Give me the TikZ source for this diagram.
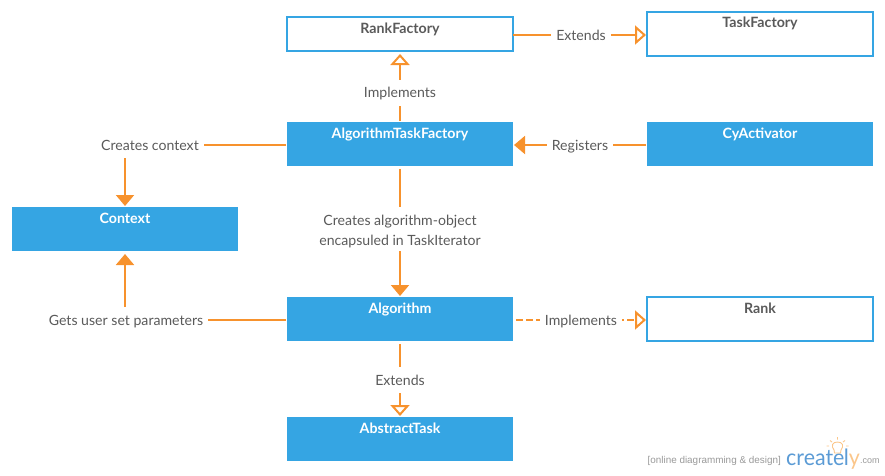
\documentclass[tikz,border=0pt]{standalone}
\usepackage{fontspec}
\setmainfont{Lato}
\newfontfamily\wmfont{Liberation Sans}
\newfontfamily\logofont[FakeStretch=0.95]{Lato}
\usetikzlibrary{arrows.meta,calc}
\definecolor{boxblue}{HTML}{35A5E3}
\definecolor{wire}{HTML}{F7922D}
\definecolor{ink}{HTML}{5A5A5A}
\definecolor{logoblue}{HTML}{5B9BD5}
\definecolor{logoorange}{HTML}{FBC68A}
\tikzset{
  basebox/.style={rectangle,inner sep=0pt,outer sep=0pt,minimum width=226pt,font=\fontsize{14.2}{16}\selectfont\bfseries,text height=16pt},
  solidbox/.style={basebox,fill=boxblue,text=white,text depth=28pt},
  linebox/.style={basebox,draw=boxblue,line width=2pt,fill=white,text=ink,text depth=28pt},
  shortbox/.style={linebox,text depth=18pt},
  plainlabel/.style={inner xsep=5pt,inner ysep=8pt,outer sep=0pt,text=ink,font=\fontsize{14.1}{20}\selectfont,align=center},
  tasklabel/.style={plainlabel,text height=10pt,text depth=0pt},
  wireline/.style={draw=wire,line width=2pt},
  fulltip/.style={-{Triangle[length=11pt 0 0,width=18pt 0 0,fill=wire]}},
  opentip/.style={-{Triangle[length=11pt 0 0,width=19pt 0 0,fill=white]}},
  dashline/.style={wireline,dash pattern=on 7pt off 3pt},
}
\begin{document}
\begin{tikzpicture}[x=1pt,y=-1pt]
\useasboundingbox (0,0) rectangle (885,475);
% boxes
\node[shortbox] (rankf) at (400,34) {RankFactory};
\node[linebox,text height=15pt,text depth=29pt] (taskf) at (760,34) {TaskFactory};
\node[solidbox] (atf) at (400,144) {AlgorithmTaskFactory};
\node[solidbox] (cya) at (760,144) {CyActivator};
\node[solidbox] (ctx) at (125,229) {Context};
\node[solidbox] (alg) at (400,319) {Algorithm};
\node[linebox] (rank) at (760,319) {Rank};
\node[solidbox] (abs) at (400,439) {AbstractTask};
% labels
\node[tasklabel] (lext1) at (581,35) {Extends};
\node[tasklabel] (limp1) at (400,92.5) {Implements};
\node[tasklabel] (lreg) at (580,145) {Registers};
\node[tasklabel] (lctx) at (150,145) {Creates context};
\node[plainlabel] (lalg) at (400,232) {Creates algorithm-object\\encapsuled in TaskIterator};
\node[tasklabel] (lget) at (126,320) {Gets user set parameters};
\node[tasklabel] (limp2) at (581,320) {Implements};
\node[tasklabel] (lext2) at (400,380) {Extends};
% connectors
\draw[wireline] (rankf.east |- lext1) -- (lext1.west);
\draw[wireline,opentip,shorten >=1pt] (lext1.east) -- (taskf.west |- lext1);
\draw[wireline,shorten <=1pt] (atf.north) -- (limp1.south);
\draw[wireline,opentip,shorten >=3pt] (limp1.north) -- (rankf.south);
\draw[wireline,shorten <=1pt] (cya.west |- lreg) -- (lreg.east);
\draw[wireline,fulltip,shorten >=1pt] (lreg.west) -- (atf.east |- lreg);
\draw[wireline,shorten <=1pt] (atf.west |- lctx) -- (lctx.east);
\draw[wireline,fulltip,shorten >=1pt] (lctx.south -| ctx.north) -- (ctx.north);
\draw[wireline,shorten <=3pt,shorten >=1pt] (atf.south) -- (lalg.north);
\draw[wireline,fulltip,shorten <=-5pt,shorten >=1pt] (lalg.south) -- (alg.north);
\draw[wireline,shorten <=1pt] (alg.west |- lget) -- (lget.east);
\draw[wireline,fulltip,shorten >=3pt] (lget.north -| ctx.south) -- (ctx.south);
\draw[dashline,shorten <=3pt] (alg.east |- limp2) -- (limp2.west);
\draw[dashline,dash phase=5pt,opentip,shorten >=1pt] (limp2.east) -- (rank.west |- limp2);
\draw[wireline,shorten <=3pt] (alg.south) -- (lext2.north);
\draw[wireline,opentip,shorten >=1pt] (lext2.south) -- (abs.north);
% watermark
\node[anchor=base east,inner sep=0pt,text=gray!80,font=\wmfont\fontsize{9.9}{11}\selectfont] (wm) at (781,463) {[online diagramming \& design]};
\node[anchor=base west,inner sep=0pt,text=logoblue,font=\logofont\fontsize{22.5}{26}\selectfont] (logo) at (786,465) {create\kern-0.5pt l\textcolor{logoorange}{y}};
\node[anchor=base west,inner sep=0pt,text=gray!80,font=\wmfont\fontsize{9}{11}\selectfont] (dotcom) at (860,463.5) {.com};
\draw[logoorange,line width=0.9pt,fill=white] (834,450) .. controls (831,446) and (832,442) .. (837.5,442) .. controls (843,442) and (844,446) .. (841,450) -- (840.5,453) -- (834.5,453) -- cycle;
\draw[logoorange,line width=0.9pt] (837.5,437) -- (837.5,439.5) (830,440.5) -- (832,442) (845,440.5) -- (843,442) (829,446) -- (826.5,446) (846,446) -- (848.5,446);
\end{tikzpicture}
\end{document}
